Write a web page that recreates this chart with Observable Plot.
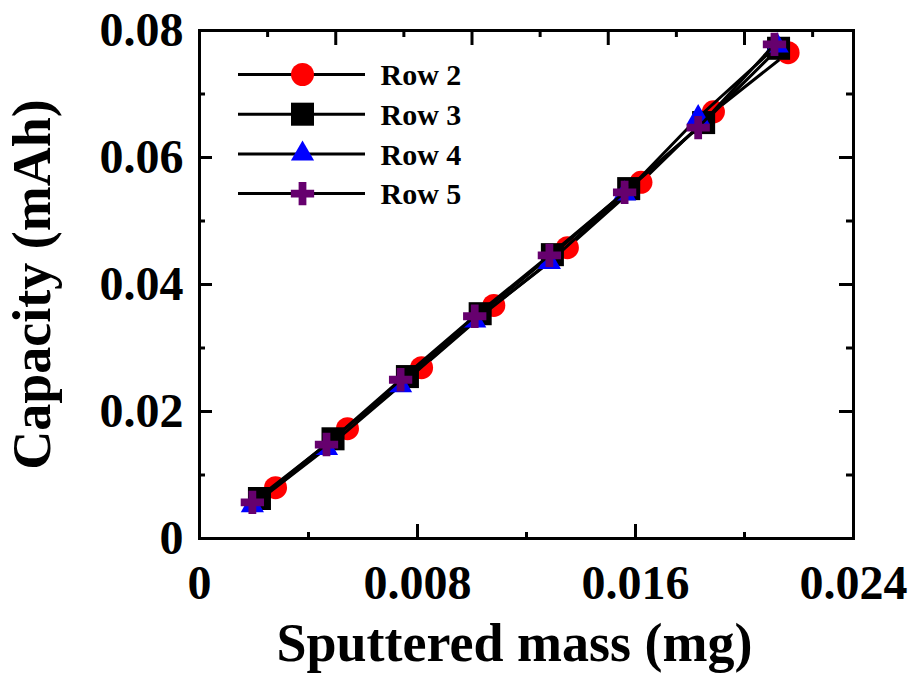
<!DOCTYPE html>
<html>
<head>
<meta charset="utf-8">
<script src="https://cdn.jsdelivr.net/npm/d3@7"></script>
<script src="https://cdn.jsdelivr.net/npm/@observablehq/plot@0.6"></script>
<style>
  html, body { margin: 0; padding: 0; background: #fff; }
  #chart svg { display: block; }
</style>
</head>
<body>
<div id="chart"></div>
<script>
// ---- Data ----
const seriesNames = ["Row 2", "Row 3", "Row 4", "Row 5"];
const row2Mass = [0.00279, 0.00543, 0.00815, 0.0108, 0.0135, 0.0162, 0.01886, 0.0216];
const row2Cap  = [0.0080, 0.0173, 0.0269, 0.0367, 0.0458, 0.0561, 0.0672, 0.0765];
const row3Mass = [0.0022, 0.0049, 0.00763, 0.0103, 0.01295, 0.01575, 0.0185, 0.02125];
const row3Cap  = [0.0063, 0.0157, 0.0255, 0.0354, 0.0447, 0.0551, 0.0655, 0.0772];
const row4Mass = [0.00194, 0.00466, 0.00738, 0.0101, 0.01284, 0.0156, 0.0183, 0.0212];
const row4Cap  = [0.0052, 0.0142, 0.0241, 0.0343, 0.0435, 0.0543, 0.0663, 0.0776];
const row5Mass = [0.00194, 0.00466, 0.00738, 0.0101, 0.01284, 0.0156, 0.0183, 0.0211];
const row5Cap  = [0.0057, 0.0148, 0.0250, 0.0350, 0.0446, 0.0545, 0.0647, 0.0778];

const xTickLabels = [0, 0.008, 0.016, 0.024];
const xMinorTicks = [0.004, 0.012, 0.020];
const topMajorTicks = [0.005, 0.010, 0.015, 0.020];
const topMinorTicks = [0.0025, 0.0075, 0.0125, 0.0175, 0.0225];
const yTickLabels = [0, 0.02, 0.04, 0.06, 0.08];
const yMinorTicks = [0.01, 0.03, 0.05, 0.07];

// ---- Build table ----
const masses = [row2Mass, row3Mass, row4Mass, row5Mass];
const caps = [row2Cap, row3Cap, row4Cap, row5Cap];
const data = seriesNames.flatMap((s, i) => masses[i].map((m, j) => ({series: s, mass: m, cap: caps[i][j]})));

// ---- Styles ----
const FONT = "'Liberation Serif', 'Times New Roman', serif";
const colors = ["#ff0000", "#000000", "#0000ff", "#66006e"];
const symbols = ["circle", "square", "triangle", "cross"];
const radii = [11.5, 13, 8.6, 9.8];
const xDom = [0, 0.024], yDom = [0, 0.08];

const lineSymbol = {
  draw(context) { context.moveTo(-63.5, 0); context.lineTo(63.5, 0); }
};

const marks = [];

// series: line then markers, in order
seriesNames.forEach((s, i) => {
  const d = data.filter(r => r.series === s);
  marks.push(Plot.line(d, {x: "mass", y: "cap", stroke: "black", strokeWidth: 3}));
  marks.push(Plot.dot(d, {x: "mass", y: "cap", symbol: () => symbols[i], fill: colors[i], stroke: "none", r: radii[i]}));
});

// frame
marks.push(Plot.frame({stroke: "black", strokeWidth: 3}));

// inward ticks
marks.push(Plot.ruleX(xTickLabels, {x: d => d, y1: yDom[0], y2: yDom[0], insetTop: -14, stroke: "black", strokeWidth: 3}));
marks.push(Plot.ruleX(xMinorTicks, {x: d => d, y1: yDom[0], y2: yDom[0], insetTop: -6, stroke: "black", strokeWidth: 3}));
marks.push(Plot.ruleX(topMajorTicks, {x: d => d, y1: yDom[1], y2: yDom[1], insetBottom: -15, stroke: "black", strokeWidth: 3}));
marks.push(Plot.ruleX(topMinorTicks, {x: d => d, y1: yDom[1], y2: yDom[1], insetBottom: -7, stroke: "black", strokeWidth: 3}));
marks.push(Plot.ruleY(yTickLabels, {y: d => d, x1: xDom[0], x2: xDom[0], insetRight: -13, stroke: "black", strokeWidth: 3}));
marks.push(Plot.ruleY(yMinorTicks, {y: d => d, x1: xDom[0], x2: xDom[0], insetRight: -6, stroke: "black", strokeWidth: 3}));
marks.push(Plot.ruleY(yTickLabels, {y: d => d, x1: xDom[1], x2: xDom[1], insetLeft: -14, stroke: "black", strokeWidth: 3}));
marks.push(Plot.ruleY(yMinorTicks, {y: d => d, x1: xDom[1], x2: xDom[1], insetLeft: -7, stroke: "black", strokeWidth: 3}));

// tick labels
marks.push(Plot.axisX({ticks: xTickLabels, tickSize: 0, tickPadding: 26, label: null,
  fontSize: 48, fontWeight: "bold", fontFamily: FONT, fill: "black", tickFormat: d => String(d)}));
marks.push(Plot.axisY({ticks: yTickLabels, tickSize: 0, tickPadding: 16, label: null,
  fontSize: 48, fontWeight: "bold", fontFamily: FONT, fill: "black", tickFormat: d => String(d)}));

// axis titles
marks.push(Plot.text(["Sputtered mass (mg)"], {frameAnchor: "bottom", dx: -12, dy: 122, lineAnchor: "bottom", textAnchor: "middle",
  fontSize: 54, fontWeight: "bold", fontFamily: FONT, fill: "black"}));
marks.push(Plot.text(["Capacity (mAh)"], {frameAnchor: "left", dx: -150, rotate: -90, lineAnchor: "bottom", textAnchor: "middle",
  fontSize: 54, fontWeight: "bold", fontFamily: FONT, fill: "black"}));

// legend
seriesNames.forEach((s, i) => {
  const dy = 44 + 39.7 * i;
  marks.push(Plot.dot([s], {frameAnchor: "top-left", dx: 102, dy, symbol: lineSymbol, stroke: "black", strokeWidth: 3, fill: "none"}));
  marks.push(Plot.dot([s], {frameAnchor: "top-left", dx: 103, dy, symbol: symbols[i], fill: colors[i], stroke: "none", r: radii[i]}));
  marks.push(Plot.text([s], {frameAnchor: "top-left", dx: 181, dy: dy + 1, text: d => d, textAnchor: "start", lineAnchor: "middle",
    fontSize: 30, fontWeight: "bold", fontFamily: FONT, fill: "black"}));
});

const chart = Plot.plot({
  width: 914,
  height: 681,
  marginLeft: 199,
  marginRight: 61,
  marginTop: 30,
  marginBottom: 143,
  x: {domain: xDom, axis: null},
  y: {domain: yDom, axis: null},
  style: {background: "white", overflow: "visible"},
  marks
});
document.getElementById("chart").appendChild(chart);
</script>
</body>
</html>
